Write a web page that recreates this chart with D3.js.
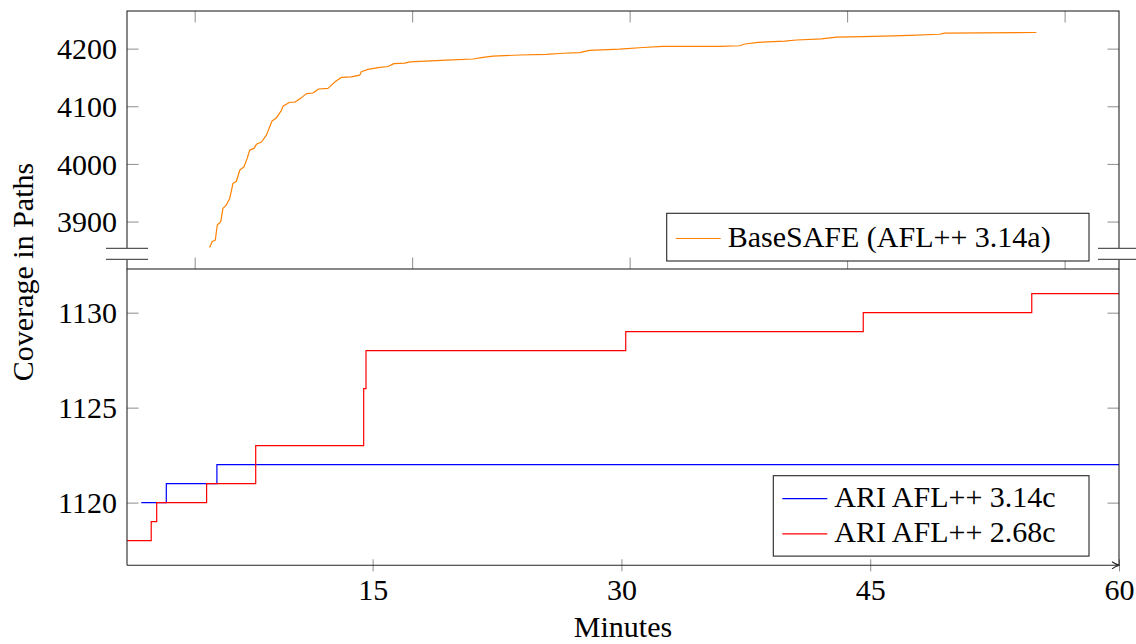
<!DOCTYPE html>
<html>
<head>
<meta charset="utf-8">
<script src="https://cdn.jsdelivr.net/npm/d3@7"></script>
<style>
    body { margin: 0; background: #fff; }
    svg { display: block; }
    svg text { font-family: "Liberation Serif", "Times New Roman", Times, Tinos, "Noto Serif", "DejaVu Serif", serif; }
</style>
</head>
<body>
<svg id="chart" width="1136" height="644"></svg>
<script>
"use strict";

// BaseSAFE (AFL++ 3.14a): [time, paths] -- top panel, own time scale
const baseSafe = [
    [1069, 3855], [1080, 3865], [1095, 3868], [1104, 3894], [1120, 3900], [1130, 3923],
    [1146, 3929], [1161, 3940], [1176, 3966], [1192, 3970], [1207, 3989], [1227, 3995],
    [1242, 4010], [1253, 4024], [1273, 4027], [1284, 4034], [1307, 4038], [1330, 4050],
    [1355, 4074], [1376, 4080], [1399, 4093], [1406, 4100], [1437, 4107], [1460, 4107],
    [1491, 4115], [1514, 4122], [1544, 4123], [1570, 4130], [1613, 4131], [1644, 4142],
    [1674, 4150], [1720, 4151], [1759, 4154], [1766, 4160], [1797, 4164], [1843, 4167],
    [1889, 4169], [1916, 4174], [1966, 4175], [1989, 4177], [2158, 4180], [2280, 4182],
    [2326, 4185], [2372, 4187], [2494, 4189], [2617, 4190], [2693, 4192], [2770, 4193],
    [2816, 4197], [2954, 4199], [3061, 4202], [3153, 4204], [3414, 4204], [3506, 4205],
    [3529, 4208], [3590, 4211], [3713, 4213], [3767, 4215], [3882, 4217], [3951, 4220],
    [4073, 4221], [4211, 4222], [4287, 4223], [4425, 4225], [4448, 4227], [4870, 4228]
];

// ARI AFL++ 3.14c: [minutes, paths]
const ariNew = [[1.05, 1120], [2.56, 1121], [5.61, 1122], [60, 1122]];

// ARI AFL++ 2.68c: [minutes, paths]
const ariOld = [
    [0.19, 1118], [1.65, 1119], [1.98, 1120], [4.99, 1121], [7.95, 1123], [14.46, 1126],
    [14.6, 1128], [30.26, 1129], [44.58, 1130], [54.74, 1131], [60, 1131]
];

const topYTicks = [3900, 4000, 4100, 4200];
const topXTicks = [1000, 2000, 3000, 4000, 5000];
const bottomYTicks = [1120, 1125, 1130];
const bottomXTicks = [15, 30, 45, 60];

const topLegend = [{ label: "BaseSAFE (AFL++ 3.14a)", color: "#ff8000" }];
const bottomLegend = [
    { label: "ARI AFL++ 3.14c", color: "#0000ff" },
    { label: "ARI AFL++ 2.68c", color: "#ff0000" }
];

// layout
const L = 127, R = 1119;
const topY0 = 11, splitY = 269, botY1 = 565.3;
const tickLen = 11.5;
const tickColor = "#8c8c8c", frameColor = "#262626";
const fontSize = 30;

// pgfplots-style 10% enlargement of the data range
function enlarge(ext, f) {
    const d = (ext[1] - ext[0]) * f;
    return [ext[0] - d, ext[1] + d];
}

const svg = d3.select("#chart");

const xTop = d3.scaleLinear().domain(enlarge(d3.extent(baseSafe, d => d[0]), 0.1)).range([L, R]);
const yTop = d3.scaleLinear().domain(enlarge(d3.extent(baseSafe, d => d[1]), 0.1)).range([splitY, topY0]);

const ariAll = ariNew.concat(ariOld);
const xBot = d3.scaleLinear().domain([d3.min(ariAll, d => d[0]), d3.max(ariAll, d => d[0])]).range([L, R]);
const yBot = d3.scaleLinear().domain(enlarge(d3.extent(ariAll, d => d[1]), 0.1)).range([botY1, splitY]);

function styleAxis(g) {
    g.select(".domain").remove();
    g.selectAll(".tick line").attr("stroke", tickColor).attr("stroke-width", 1);
    g.attr("font-family", null).attr("font-size", fontSize);
    g.selectAll(".tick text").attr("fill", "#000");
}

// ---- top panel axes
svg.append("g").attr("transform", `translate(${L},0)`)
    .call(d3.axisLeft(yTop).tickValues(topYTicks).tickSize(-tickLen).tickPadding(10).tickFormat(d3.format("d")))
    .call(styleAxis)
    .selectAll(".tick text").attr("dy", "0.34em");
svg.append("g").attr("transform", `translate(${R},0)`)
    .call(d3.axisRight(yTop).tickValues(topYTicks).tickSize(-tickLen).tickFormat(""))
    .call(styleAxis);
svg.append("g").attr("transform", `translate(0,${topY0})`)
    .call(d3.axisTop(xTop).tickValues(topXTicks).tickSize(-tickLen).tickFormat(""))
    .call(styleAxis);
svg.append("g").attr("transform", `translate(0,${splitY})`)
    .call(d3.axisBottom(xTop).tickValues(topXTicks).tickSize(-tickLen).tickFormat(""))
    .call(styleAxis);

// ---- bottom panel axes
svg.append("g").attr("transform", `translate(${L},0)`)
    .call(d3.axisLeft(yBot).tickValues(bottomYTicks).tickSize(-tickLen).tickPadding(10).tickFormat(d3.format("d")))
    .call(styleAxis)
    .selectAll(".tick text").attr("dy", "0.34em");
svg.append("g").attr("transform", `translate(${R},0)`)
    .call(d3.axisRight(yBot).tickValues(bottomYTicks).tickSize(-tickLen).tickFormat(""))
    .call(styleAxis);
const xAxisG = svg.append("g").attr("transform", `translate(0,${botY1})`)
    .call(d3.axisBottom(xBot).tickValues(bottomXTicks).tickSize(6).tickFormat(d3.format("d")))
    .call(styleAxis);
xAxisG.selectAll(".tick line").attr("y1", -6).attr("y2", 6);
xAxisG.selectAll(".tick text").attr("y", 34.7).attr("dy", 0);

// ---- data lines
svg.append("path").datum(baseSafe)
    .attr("fill", "none").attr("stroke", "#ff8000").attr("stroke-width", 1.2)
    .attr("stroke-linejoin", "round")
    .attr("d", d3.line().x(d => xTop(d[0])).y(d => yTop(d[1])));

const stepLine = d3.line().curve(d3.curveStepAfter).x(d => xBot(d[0])).y(d => yBot(d[1]));
svg.append("path").datum(ariNew)
    .attr("fill", "none").attr("stroke", "#0000ff").attr("stroke-width", 1.2)
    .attr("d", stepLine);
svg.append("path").datum(ariOld)
    .attr("fill", "none").attr("stroke", "#ff0000").attr("stroke-width", 1.2)
    .attr("d", stepLine);

// ---- frame
const frame = svg.append("g").attr("stroke", frameColor).attr("stroke-width", 1.1).attr("fill", "none");
frame.append("rect").attr("x", L).attr("y", topY0).attr("width", R - L).attr("height", splitY - topY0);
frame.append("line").attr("x1", L).attr("x2", L).attr("y1", splitY).attr("y2", botY1);
frame.append("line").attr("x1", R).attr("x2", R).attr("y1", splitY).attr("y2", botY1);
frame.append("line").attr("x1", L).attr("x2", R).attr("y1", botY1).attr("y2", botY1);
frame.append("path")
    .attr("d", `M${R - 7},${botY1 - 3.6} Q${R - 3},${botY1 - 0.8} ${R + 0.5},${botY1} Q${R - 3},${botY1 + 0.8} ${R - 7},${botY1 + 3.6}`);

// ---- axis break marks
const breakTop = 248.3, breakBot = 259.3;
[L, R].forEach(function (cx) {
    svg.append("rect").attr("x", cx - 21).attr("y", breakTop).attr("width", 42)
        .attr("height", breakBot - breakTop).attr("fill", "#fff");
    [breakTop, breakBot].forEach(function (y) {
        svg.append("line").attr("x1", cx - 21).attr("x2", cx + 21).attr("y1", y).attr("y2", y)
            .attr("stroke", "#555").attr("stroke-width", 1.2);
    });
});

// ---- legends
function legend(items, x, y, w, rowH, firstBase) {
    const g = svg.append("g");
    g.append("rect").attr("x", x).attr("y", y).attr("width", w).attr("height", rowH * items.length + 10)
        .attr("fill", "#fff").attr("stroke", frameColor).attr("stroke-width", 1.1);
    items.forEach(function (it, i) {
        const base = firstBase + i * rowH;
        g.append("line").attr("x1", x + 9).attr("x2", x + 54).attr("y1", base - 8).attr("y2", base - 8)
            .attr("stroke", it.color).attr("stroke-width", 1.2);
        g.append("text").attr("x", x + 61).attr("y", base).attr("font-size", fontSize).text(it.label);
    });
}
legend(topLegend, 666.7, 213.3, 422.3, 37.7, 246.5);
legend(bottomLegend, 773.3, 475.7, 315.7, 35.2, 506.7);

// ---- axis titles
svg.append("text").attr("x", (L + R) / 2).attr("y", 637).attr("text-anchor", "middle")
    .attr("font-size", fontSize).text("Minutes");
svg.append("text").attr("transform", "translate(33,272) rotate(-90)").attr("text-anchor", "middle")
    .attr("font-size", fontSize).text("Coverage in Paths");
</script>
</body>
</html>
